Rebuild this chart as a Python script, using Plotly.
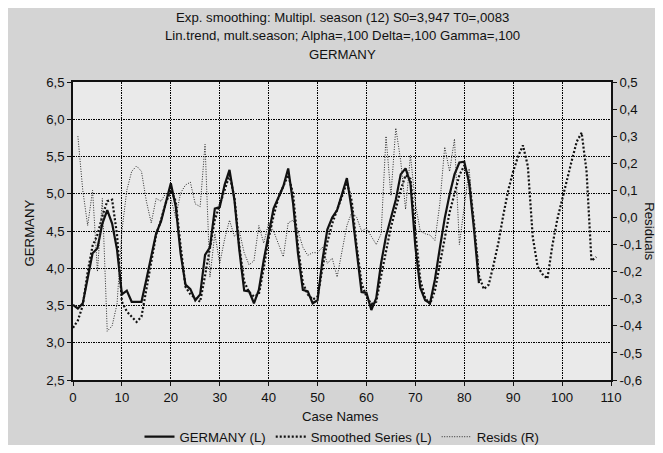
import plotly.graph_objects as go

# ---- data ----
germany_case = list(range(0, 84))
germany = [3.51, 3.46, 3.53, 3.85, 4.20, 4.27, 4.60, 4.78, 4.60, 4.25,
           3.65, 3.70, 3.55, 3.55, 3.55, 3.85, 4.15, 4.47, 4.63, 4.90,
           5.14, 4.83, 4.20, 3.78, 3.72, 3.57, 3.65, 4.18, 4.28, 4.80,
           4.82, 5.12, 5.32, 4.92, 4.25, 3.70, 3.69, 3.53, 3.71, 4.11,
           4.47, 4.80, 4.95, 5.10, 5.34, 4.87, 4.20, 3.71, 3.69, 3.53,
           3.57, 4.11, 4.52, 4.68, 4.78, 5.00, 5.21, 4.78, 4.20, 3.68,
           3.67, 3.44, 3.60, 4.07, 4.43, 4.67, 4.92, 5.26, 5.34, 5.14,
           4.29, 3.74, 3.57, 3.53, 3.85, 4.27, 4.67, 4.99, 5.26, 5.42,
           5.43, 5.14, 4.52, 3.80]

smoothed_case = list(range(0, 108))
smoothed = [3.20, 3.30, 3.50, 3.95, 4.30, 4.45, 4.70, 4.90, 4.92, 4.45,
            3.55, 3.42, 3.35, 3.28, 3.35, 3.70, 4.10, 4.45, 4.65, 4.88,
            5.05, 4.90, 4.30, 3.75, 3.65, 3.60, 3.55, 3.90, 4.30, 4.65,
            4.85, 5.05, 5.25, 4.95, 4.30, 3.82, 3.68, 3.62, 3.65, 4.00,
            4.40, 4.70, 4.95, 5.10, 5.25, 5.00, 4.30, 3.80, 3.65, 3.58,
            3.62, 4.00, 4.35, 4.60, 4.78, 4.98, 5.15, 4.90, 4.30, 3.80,
            3.62, 3.52, 3.55, 3.90, 4.25, 4.55, 4.80, 5.05, 5.25, 5.20,
            4.50, 3.85, 3.60, 3.52, 3.70, 4.05, 4.40, 4.75, 5.00, 5.25,
            5.38, 5.20, 4.60, 3.90, 3.72, 3.78, 4.05, 4.35, 4.72, 5.05,
            5.30, 5.50, 5.65, 5.37, 4.42, 4.02, 3.92, 3.86, 4.30, 4.65,
            4.92, 5.20, 5.45, 5.70, 5.82, 5.30, 4.10, 4.15]

resid_case = list(range(1, 84))
resids = [0.30, 0.10, -0.03, 0.10, -0.20, 0.07, -0.42, -0.40, -0.32, -0.05,
          0.10, 0.17, 0.19, 0.17, 0.06, -0.02, 0.07, 0.06, 0.09, 0.07,
          0.00, 0.09, 0.12, 0.13, 0.05, 0.04, 0.27, -0.22, -0.06, -0.17,
          -0.08, -0.01, -0.07, -0.05, -0.13, -0.175, -0.16, -0.03, -0.095, -0.02,
          -0.05, -0.10, -0.145, -0.02, -0.01, -0.05, -0.11, -0.14, -0.13, -0.13,
          -0.11, -0.17, -0.15, -0.22, -0.12, -0.03, 0.02, 0.00, -0.05, -0.04,
          -0.07, -0.10, -0.06, 0.30, 0.08, 0.33, 0.21, 0.03, 0.23, 0.05,
          -0.05, -0.06, -0.065, -0.085, 0.05, 0.26, 0.17, 0.29, -0.10, 0.05,
          0.18, -0.05, -0.17]

x_ticks = [0, 10, 20, 30, 40, 50, 60, 70, 80, 90, 100, 110]
y_ticks = [2.5, 3.0, 3.5, 4.0, 4.5, 5.0, 5.5, 6.0, 6.5]
y_labels = ["2,5", "3,0", "3,5", "4,0", "4,5", "5,0", "5,5", "6,0", "6,5"]
y2_ticks = [-0.6, -0.5, -0.4, -0.3, -0.2, -0.1, 0.0, 0.1, 0.2, 0.3, 0.4, 0.5]
y2_labels = ["-0,6", "-0,5", "-0,4", "-0,3", "-0,2", "-0,1", "0,0",
             "0,1", "0,2", "0,3", "0,4", "0,5"]

title_lines = ["Exp. smoothing: Multipl. season (12) S0=3,947 T0=,0083",
               "Lin.trend, mult.season; Alpha=,100 Delta=,100 Gamma=,100",
               "GERMANY"]

FONT = "Liberation Sans, Arial, sans-serif"
FS = 13.2
INK = "#111111"

fig = go.Figure()
fig.add_trace(go.Scatter(x=germany_case, y=germany, mode="lines",
                         name="GERMANY (L)",
                         line=dict(color=INK, width=2.2)))
fig.add_trace(go.Scatter(x=smoothed_case, y=smoothed, mode="lines",
                         name="Smoothed Series (L)",
                         line=dict(color=INK, width=2.2, dash="2px,2px")))
fig.add_trace(go.Scatter(x=resid_case, y=resids, mode="lines",
                         name="Resids (R)", yaxis="y2",
                         line=dict(color="#2a2a2a", width=1, dash="1px,1.5px")))

annotations = []
for k, line in enumerate(title_lines):
    annotations.append(dict(text=line, xref="paper", yref="paper",
                            x=0.50, y=1.218 - k * 0.0635,
                            xanchor="center", yanchor="middle",
                            showarrow=False,
                            font=dict(family=FONT, size=FS, color=INK)))
annotations.append(dict(text="GERMANY", xref="paper", yref="paper",
                        x=-0.080, y=0.495, textangle=-90,
                        xanchor="center", yanchor="middle", showarrow=False,
                        font=dict(family=FONT, size=FS, color=INK)))
annotations.append(dict(text="Residuals", xref="paper", yref="paper",
                        x=1.072, y=0.50, textangle=90,
                        xanchor="center", yanchor="middle", showarrow=False,
                        font=dict(family=FONT, size=FS, color=INK)))
annotations.append(dict(text="Case Names", xref="paper", yref="paper",
                        x=0.498, y=-0.121,
                        xanchor="center", yanchor="middle", showarrow=False,
                        font=dict(family=FONT, size=FS, color=INK)))

axis_common = dict(showline=True, linecolor=INK, linewidth=1.5,
                   ticks="outside", ticklen=4, tickcolor=INK,
                   zeroline=False, automargin=False)

# the page body adds an 8px margin, so the figure is sized to fit inside it
fig.update_layout(
    width=655, height=437,
    margin=dict(l=65, r=52, t=74, b=65),
    paper_bgcolor="#d4d4d4",
    plot_bgcolor="#eaeaea",
    font=dict(family=FONT, size=FS, color=INK),
    showlegend=True,
    legend=dict(orientation="h", x=0.50, xanchor="center",
                yref="container", y=0.018, yanchor="middle",
                bgcolor="rgba(0,0,0,0)",
                font=dict(family=FONT, size=FS, color=INK),
                itemwidth=30),
    annotations=annotations,
    xaxis=dict(range=[0, 110], tickmode="array", tickvals=x_ticks,
               showgrid=True, gridcolor="#000000", griddash="1.5px,1px",
               gridwidth=1, mirror=True, **axis_common),
    yaxis=dict(range=[2.5, 6.5], tickmode="array", tickvals=y_ticks,
               ticktext=y_labels,
               showgrid=True, gridcolor="#000000", griddash="1.5px,1px",
               gridwidth=1, mirror=True, **axis_common),
    yaxis2=dict(range=[-0.6, 0.5], overlaying="y", side="right",
                tickmode="array", tickvals=y2_ticks, ticktext=y2_labels,
                showgrid=False, **axis_common),
)

fig.write_html("out.html")
